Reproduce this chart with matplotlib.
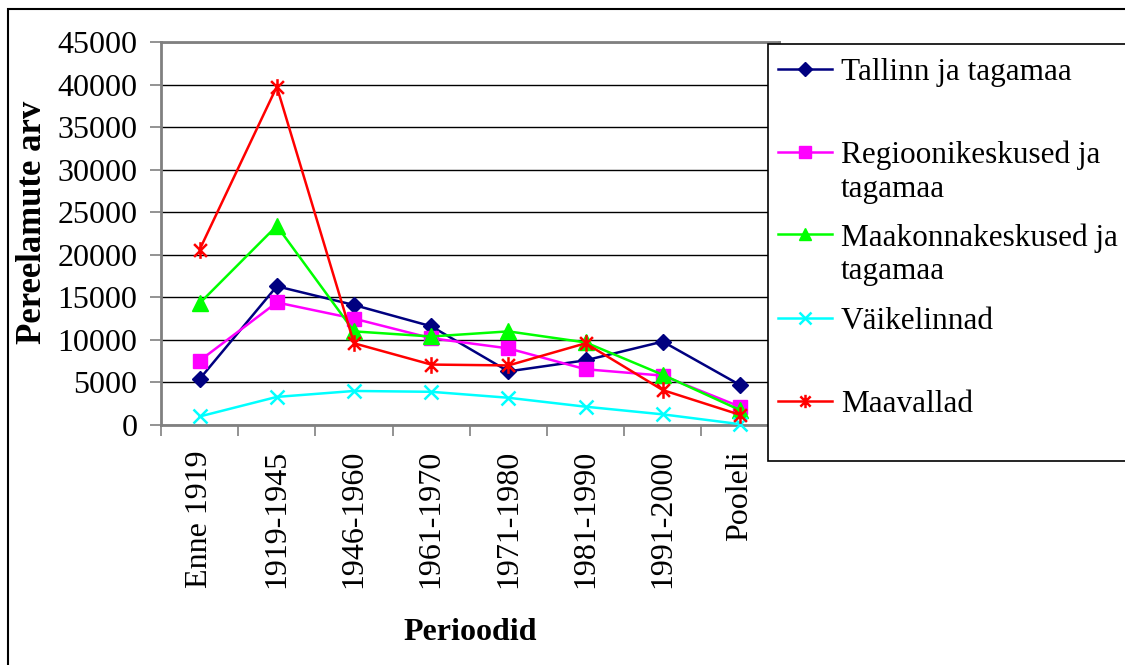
import numpy as np
import matplotlib
matplotlib.use("Agg")
import matplotlib.pyplot as plt
from matplotlib.path import Path
from matplotlib.patches import Rectangle
from matplotlib.lines import Line2D

plt.rcParams["font.family"] = ["Liberation Serif", "DejaVu Serif"]

periods = ["Enne 1919", "1919-1945", "1946-1960", "1961-1970",
           "1971-1980", "1981-1990", "1991-2000", "Pooleli"]

tallinn = [5400, 16300, 14100, 11600, 6300, 7600, 9800, 4700]
regioon = [7550, 14400, 12500, 10200, 9000, 6550, 5800, 2150]
maakond = [14300, 23400, 11000, 10400, 11000, 9700, 5900, 1750]
vaike = [1000, 3300, 4000, 3900, 3200, 2150, 1250, 100]
maavallad = [20600, 39750, 9600, 7100, 7000, 9600, 4100, 1200]

labels = ["Tallinn ja tagamaa", "Regioonikeskused ja\ntagamaa",
          "Maakonnakeskused ja\ntagamaa", "Väikelinnad", "Maavallad"]

# excel style asterisk: x plus vertical bar
star = Path([(-1, -1), (1, 1), (-1, 1), (1, -1), (0, -1.3), (0, 1.3)],
            [Path.MOVETO, Path.LINETO, Path.MOVETO, Path.LINETO, Path.MOVETO, Path.LINETO])

styles = [
    dict(color="#000080", marker="D", ms=8.5, mfc="#000080", mec="#000080"),
    dict(color="#FF00FF", marker="s", ms=10, mfc="#FF00FF", mec="#FF00FF"),
    dict(color="#00FF00", marker="^", ms=11, mfc="#00FF00", mec="#00FF00"),
    dict(color="#00FFFF", marker="x", ms=10, mew=1.8),
    dict(color="#FF0000", marker=star, ms=12, mew=1.8),
]
series = [tallinn, regioon, maakond, vaike, maavallad]

W, H = 1125, 665
fig = plt.figure(figsize=(W / 100, H / 100), dpi=100)
ax = fig.add_axes([161 / W, 1 - 425 / H, 617.6 / W, 383 / H])

x = np.arange(len(periods))
for vals, st in zip(series, styles):
    ax.plot(x, vals, lw=1.8, **st, clip_on=False, zorder=3)

ax.set_xlim(-0.5, 7.5)
ax.set_ylim(0, 45000)
ax.set_yticks(np.arange(0, 45001, 5000))
ax.yaxis.grid(True, color="black", lw=1.0)
ax.set_axisbelow(True)
ax.tick_params(axis="y", direction="out", length=8, width=1.2, color="#808080",
               labelsize=23, pad=9)
ax.set_xticks(x)
ax.set_xticklabels(periods, rotation=90, fontsize=23, va="top")
ax.tick_params(axis="x", which="major", length=0, pad=18)
ax.set_xticks(np.arange(-0.5, 8.0, 1.0), minor=True)
ax.tick_params(axis="x", which="minor", direction="out", length=8, width=1.2, color="#808080")
for sp in ax.spines.values():
    sp.set_color("#808080")
    sp.set_linewidth(2)

ax.set_ylabel("Pereelamute arv", fontsize=25, fontweight="bold")
ax.yaxis.label.set_va("center")
ax.yaxis.set_label_coords((33 - 161) / 617.6, (425 - 222) / 383)
ax.set_xlabel("Perioodid", fontsize=23, fontweight="bold")
ax.xaxis.label.set_va("center")
ax.xaxis.set_label_coords(0.5, (425 - 633) / 383)

# figure border
fig.patches.append(Rectangle((8 / W, -0.05), 1.2, 1 - 9 / H + 0.05, transform=fig.transFigure,
                             fill=False, ec="black", lw=1.5, zorder=0))

# legend box (excel style, sits over the plot's right edge)
fig.patches.append(Rectangle((768 / W, 1 - 461 / H), 0.5, (461 - 44) / H,
                             transform=fig.transFigure, fc="white", ec="black", lw=1.2, zorder=5))
entry_y = [69, 152, 234, 318, 401]
for lab, st, yy in zip(labels, styles, entry_y):
    yf = 1 - yy / H
    fig.add_artist(Line2D([778 / W, 832 / W], [yf, yf], transform=fig.transFigure,
                          color=st["color"], lw=1.8, zorder=6))
    mk = {k: v for k, v in st.items() if k != "color"}
    ms = mk.pop("ms")
    fig.add_artist(Line2D([805 / W], [yf], transform=fig.transFigure, color=st["color"],
                          markersize=ms * 0.8, ls="none", zorder=7, **mk))
    fig.text(841 / W, yf + 11 / H, lab, fontsize=22.5, va="top", ha="left",
             linespacing=1.2, zorder=7)

fig.savefig("out.png", dpi=100)
